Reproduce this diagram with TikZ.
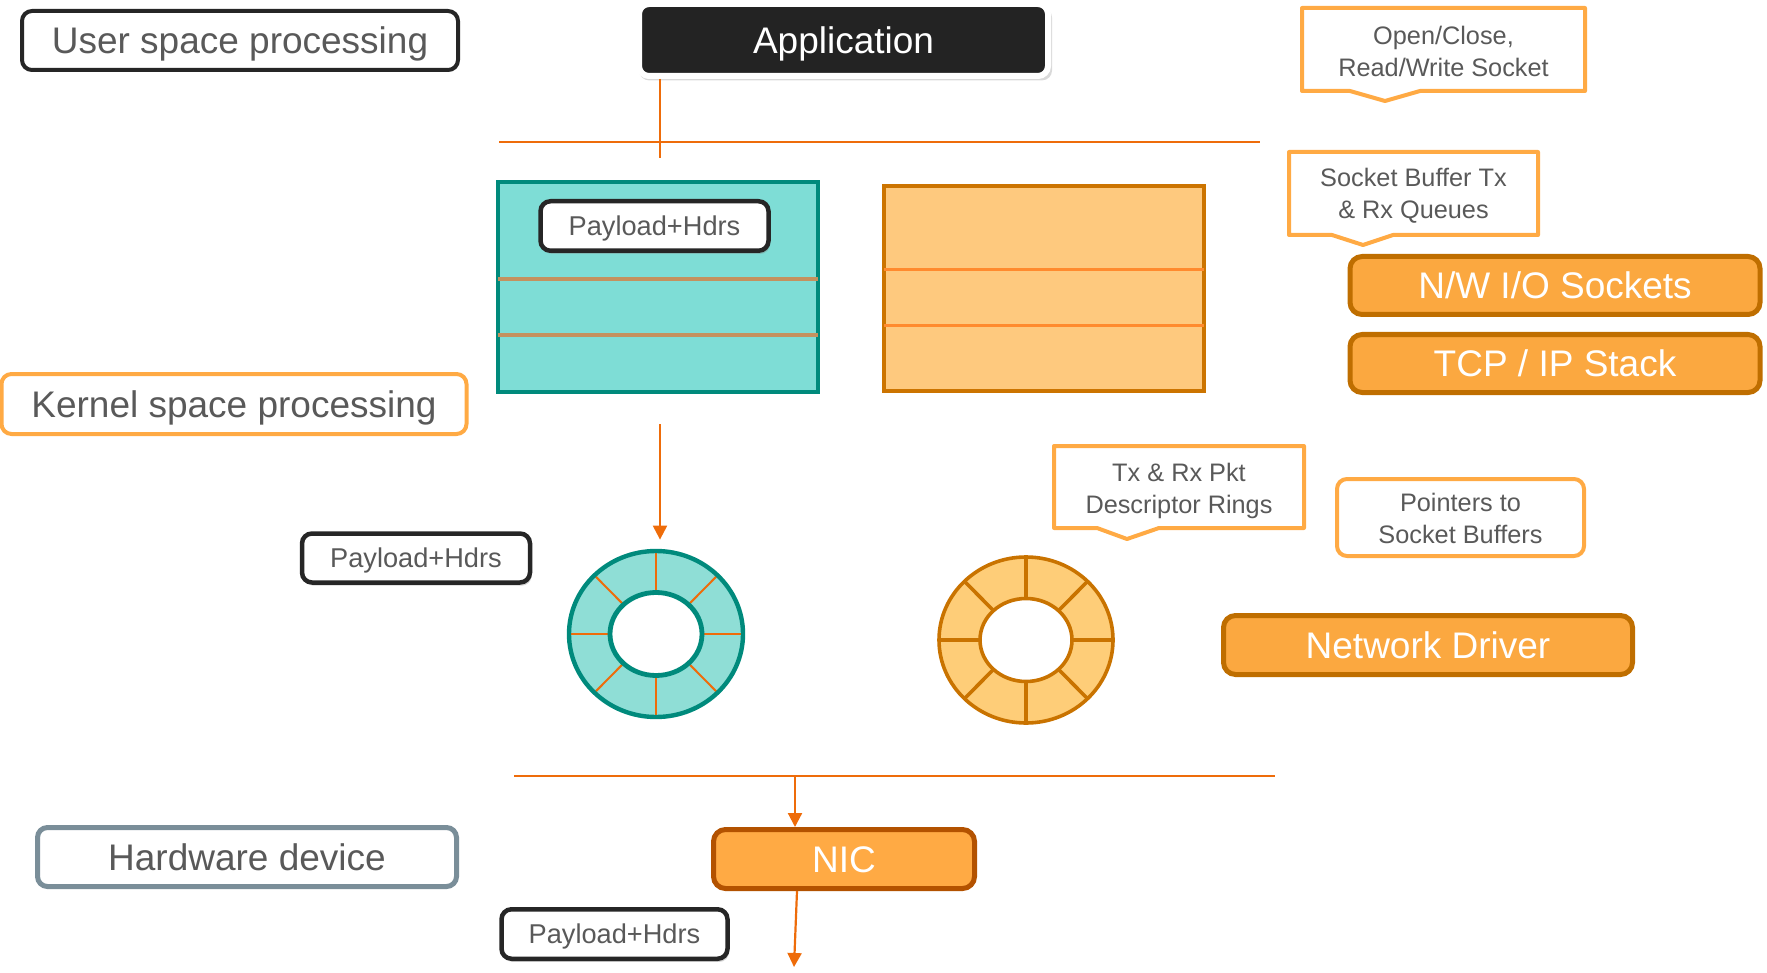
\documentclass[tikz,border=0pt]{standalone}
\usepackage{fontspec}
\setmainfont{Liberation Sans}
\usetikzlibrary{shapes.geometric,shadows,arrows.meta,calc}
\definecolor{txtgray}{HTML}{595959}
\definecolor{darkb}{HTML}{262626}
\definecolor{appfill}{HTML}{232323}
\definecolor{lorange}{HTML}{FFAA44}
\definecolor{orfill}{HTML}{FBA840}
\definecolor{orborder}{HTML}{BF6E00}
\definecolor{nicborder}{HTML}{B35200}
\definecolor{lineor}{HTML}{EE6C0A}
\definecolor{tealfill}{HTML}{7EDDD6}
\definecolor{tealdark}{HTML}{008A7C}
\definecolor{ringteal}{HTML}{8FDED6}
\definecolor{tline}{HTML}{C4915E}
\definecolor{bufor}{HTML}{FEC97E}
\definecolor{bufborder}{HTML}{CC7400}
\definecolor{bufline}{HTML}{FF8A2E}
\definecolor{ringor}{HTML}{FECD78}
\definecolor{ringorb}{HTML}{C97300}
\definecolor{hwgray}{HTML}{7A8E99}
\newcommand\fbig{\fontsize{18.5}{22}\selectfont}
\newcommand\fmid{\fontsize{13.6}{16}\selectfont}
\newcommand\fsmall{\fontsize{12.65}{15.9}\selectfont}
\newcommand\topstrut[1]{\rule{0pt}{#1}}
\tikzset{
  lab/.style={font=\fbig, text=txtgray, fill=white, rounded corners=5pt, inner sep=0pt, line width=2pt,
    text height=13.25pt, text depth=0pt},
  orbox/.style={font=\fbig, text=white, fill=orfill, draw=orborder, line width=2.5pt, rounded corners=6pt, inner sep=0pt,
    text height=13.25pt, text depth=0pt},
  payload/.style={font=\fmid, text=txtgray, fill=white, draw=darkb, line width=2.25pt, rounded corners=5pt, inner sep=0pt,
    text height=9.74pt, text depth=0pt,
    drop shadow={shadow xshift=0.8pt, shadow yshift=-1.6pt, opacity=0.35}},
  ctext/.style={font=\fsmall, text=txtgray, align=center, inner sep=0pt, outer sep=0pt},
  callline/.style={draw=lorange, line width=2pt, line join=round},
  oline/.style={draw=lineor, line width=1.1pt},
  arr/.style={oline, -{Triangle[length=7pt,width=7pt]}},
}
\begin{document}
\begin{tikzpicture}[x=0.5pt,y=-0.5pt]
\useasboundingbox (0,0) rectangle (1767,973);

% left labels
\node[lab, draw=darkb, minimum width=218pt, minimum height=29.5pt,
  drop shadow={shadow xshift=0.5pt, shadow yshift=-1pt, opacity=0.3}] (user) at (240,40.5) {User space processing};
\node[lab, draw=lorange, minimum width=232.5pt, minimum height=30pt] (kernel) at (234,404) {Kernel space processing};
\node[lab, draw=hwgray, line width=2.5pt, minimum width=209.5pt, minimum height=29.5pt] (hw) at (247,857) {Hardware device};

% application
\node[font=\fbig, text=white, fill=appfill, draw=white, line width=3pt, rounded corners=5pt,
  minimum width=204.5pt, minimum height=36pt, inner sep=0pt, text height=13.25pt, text depth=0pt,
  drop shadow={shadow xshift=1pt, shadow yshift=-2pt, opacity=0.3, shadow scale=1.01}] (app) at (843.5,40) {Application};
\coordinate (appx) at (660,0);
\coordinate (append) at (660,158);
\draw[oline] (app.south -| appx) -- (append);

% separators
\coordinate (sepA1) at (499,142);
\coordinate (sepA2) at (1260,142);
\draw[oline] (sepA1) -- (sepA2);
\coordinate (sepB1) at (514,776);
\coordinate (sepB2) at (1275,776);
\draw[oline] (sepB1) -- (sepB2);

% teal buffer
\node[fill=tealfill, draw=tealdark, line width=2pt, minimum width=160pt, minimum height=105pt, inner sep=0pt] (tealbuf) at (658,287) {};
\draw[draw=tline, line width=1.6pt] (498,279) -- (818,279);
\draw[draw=tline, line width=1.6pt] (498,335) -- (818,335);
\node[payload, minimum width=114pt, minimum height=24.75pt] (pay1) at (654.5,226) {Payload+Hdrs};

% orange buffer
\node[fill=bufor, draw=bufborder, line width=2pt, minimum width=160pt, minimum height=102.5pt, inner sep=0pt] (orbuf) at (1044,288.5) {};
\draw[draw=bufline, line width=1.5pt] (884,270) -- (1204,270);
\draw[draw=bufline, line width=1.5pt] (884,326) -- (1204,326);

% teal ring
\node[ellipse, fill=ringteal, minimum width=87pt, minimum height=83pt, inner sep=0pt] (ring1) at (656,634) {};
\node[ellipse, fill=white, minimum width=46pt, minimum height=41.5pt, inner sep=0pt] (hole1) at (656,634) {};
\foreach \a in {0,45,...,315}
  \draw[draw=lineor, line width=1pt] ({656+46*cos(\a)},{634+41.5*sin(\a)}) -- ({656+87*cos(\a)},{634+83*sin(\a)});
\draw[draw=tealdark, line width=2.2pt] (656,634) ellipse [x radius=43.5pt, y radius=41.5pt];
\draw[draw=tealdark, line width=2.4pt] (656,634) ellipse [x radius=23pt, y radius=20.75pt];

% orange ring
\node[ellipse, fill=ringor, minimum width=87pt, minimum height=83pt, inner sep=0pt] (ring2) at (1026,640) {};
\node[ellipse, fill=white, minimum width=46pt, minimum height=41.5pt, inner sep=0pt] (hole2) at (1026,640) {};
\foreach \a in {0,45,...,315}
  \draw[draw=ringorb, line width=1.8pt] ({1026+46*cos(\a)},{640+41.5*sin(\a)}) -- ({1026+87*cos(\a)},{640+83*sin(\a)});
\draw[draw=ringorb, line width=1.8pt] (1026,640) ellipse [x radius=43.5pt, y radius=41.5pt];
\draw[draw=ringorb, line width=1.8pt] (1026,640) ellipse [x radius=23pt, y radius=20.75pt];

% arrow teal buffer -> ring
\draw[arr] ([xshift=1pt,yshift=-15pt]tealbuf.south) -- ([xshift=2pt,yshift=5.5pt]ring1.north);

\node[payload, minimum width=114pt, minimum height=24.5pt] (pay2) at (416,558) {Payload+Hdrs};

% callouts
\node[ctext, minimum width=141.5pt, minimum height=41.5pt] (oc) at (1443.5,49.5) {\topstrut{11.5pt}Open/Close,\\Read/Write Socket};
\draw[callline] (oc.north west) -- (oc.north east) -- (oc.south east) -- ($(oc.south west)+(118,0)$)
  -- ($(oc.south west)+(83,10)$) -- ($(oc.south west)+(48,0)$) -- (oc.south west) -- cycle;

\node[ctext, minimum width=124.5pt, minimum height=41.5pt] (sb) at (1413.5,193.5) {\topstrut{11.5pt}Socket Buffer Tx\\\& Rx Queues};
\draw[callline] (sb.north west) -- (sb.north east) -- (sb.south east) -- ($(sb.south west)+(104,0)$)
  -- ($(sb.south west)+(74,10)$) -- ($(sb.south west)+(43,0)$) -- (sb.south west) -- cycle;

\node[ctext, minimum width=125pt, minimum height=41pt] (tx) at (1179,487) {\topstrut{12.8pt}Tx \& Rx Pkt\\Descriptor Rings};
\draw[callline] (tx.north west) -- (tx.north east) -- (tx.south east) -- ($(tx.south west)+(105,0)$)
  -- ($(tx.south west)+(73,11)$) -- ($(tx.south west)+(43,0)$) -- (tx.south west) -- cycle;

\node[ctext, draw=lorange, line width=2pt, rounded corners=5pt, outer sep=1pt, minimum width=123.5pt, minimum height=38.5pt] (ptr) at (1460.5,517.5) {\topstrut{10.3pt}Pointers to\\Socket Buffers};

% orange function boxes
\node[orbox, minimum width=205pt, minimum height=29pt] (nwio) at (1555,285.5) {N/W I/O Sockets};
\node[orbox, minimum width=205pt, minimum height=29pt] (tcp) at (1555,363.5) {TCP / IP Stack};
\node[orbox, minimum width=204.5pt, minimum height=29.5pt] (drv) at (1428,645) {Network Driver};
\node[orbox, draw=nicborder, fill=lorange, minimum width=130.5pt, minimum height=29.5pt] (nic) at (844,859) {NIC};

% arrows to/from NIC
\coordinate (nicin) at (795,776);
\draw[arr] (nicin) -- (nicin |- nic.north);
\coordinate (nicx) at (797,0);
\coordinate (nicout) at (794,967);
\draw[arr] (nic.south -| nicx) -- (nicout);

\node[payload, minimum width=113pt, minimum height=24.75pt] (pay3) at (614.5,934) {Payload+Hdrs};
\end{tikzpicture}
\end{document}
